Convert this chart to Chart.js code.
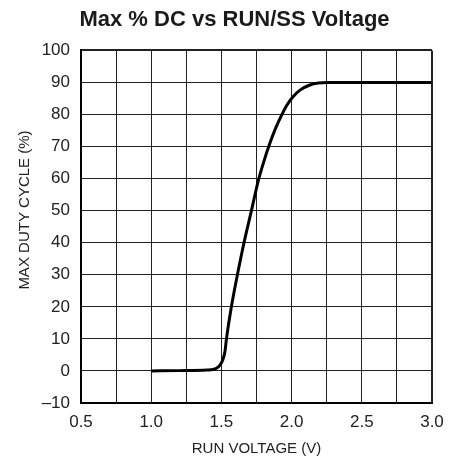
<!DOCTYPE html>
<html>
<head>
<meta charset="utf-8">
<script src="https://cdn.jsdelivr.net/npm/chart.js@4/dist/chart.umd.min.js"></script>
<style>
  html, body { margin: 0; padding: 0; background: #fff; }
  #wrap { width: 461px; height: 456px; }
</style>
</head>
<body>
<div id="wrap"><canvas id="dcChart" width="461" height="456"></canvas></div>
<script>
// values
const runVoltage = [1.0, 1.2, 1.4, 1.46, 1.49, 1.51, 1.525, 1.536, 1.571, 1.614, 1.661, 1.714, 1.762, 1.80, 1.84, 1.885, 1.929, 1.965, 2.007, 2.06, 2.13, 2.19, 2.25, 2.5, 3.0];
const maxDutyCycle = [0, 0.1, 0.3, 0.7, 1.8, 3.5, 6, 10, 20, 30, 40, 50, 59.2, 65, 70.4, 75.6, 79.8, 82.8, 85.4, 87.6, 89.2, 89.8, 90, 90, 90];

const xTicks = [0.5, 0.75, 1.0, 1.25, 1.5, 1.75, 2.0, 2.25, 2.5, 2.75, 3.0];
const xTickLabels = ['0.5', '', '1.0', '', '1.5', '', '2.0', '', '2.5', '', '3.0'];
const yTicks = [-10, 0, 10, 20, 30, 40, 50, 60, 70, 80, 90, 100];
const yTickLabels = ['\u201310', '0', '10', '20', '30', '40', '50', '60', '70', '80', '90', '100'];

const fam = '"Liberation Sans", Arial, sans-serif';

const points = runVoltage.map((v, i) => ({ x: v, y: maxDutyCycle[i] }));

// outer frame lines a little heavier than the inner grid
const edgeWidth = (c) => (c.index === 0 || c.index === c.scale.ticks.length - 1) ? 2 : 1;

new Chart(document.getElementById('dcChart').getContext('2d'), {
    type: 'line',
    data: {
        datasets: [{
            data: points,
            borderColor: '#000',
            borderWidth: 3,
            pointRadius: 0,
            fill: false,
            cubicInterpolationMode: 'monotone'
        }]
    },
    options: {
        responsive: false,
        animation: false,
        layout: { padding: { left: 8, right: 0, top: 0, bottom: 0 } },
        plugins: {
            legend: { display: false },
            tooltip: { enabled: false },
            title: {
                display: true,
                text: 'Max % DC vs RUN/SS Voltage',
                color: '#1a1a1a',
                font: { family: fam, size: 22, weight: 'bold' },
                padding: { top: 7, bottom: 17 }
            }
        },
        scales: {
            x: {
                type: 'linear',
                min: 0.5,
                max: 3.0,
                afterBuildTicks: (s) => { s.ticks = xTicks.map(v => ({ value: v })); },
                afterFit: (s) => { s.height = 53; },
                grid: { color: '#222', lineWidth: edgeWidth, drawTicks: false },
                border: { color: '#000', width: 2 },
                ticks: {
                    color: '#222',
                    padding: 9,
                    maxRotation: 0,
                    autoSkip: false,
                    font: { family: fam, size: 17 },
                    callback: (v, i) => xTickLabels[i]
                },
                title: {
                    display: true,
                    text: 'RUN VOLTAGE (V)',
                    color: '#222',
                    font: { family: fam, size: 15 },
                    padding: { top: 0, bottom: -2 }
                }
            },
            y: {
                type: 'linear',
                min: -10,
                max: 100,
                afterBuildTicks: (s) => { s.ticks = yTicks.map(v => ({ value: v })); },
                afterFit: (s) => { s.width = 73; },
                grid: { color: '#222', lineWidth: edgeWidth, drawTicks: false },
                border: { color: '#000', width: 2 },
                ticks: {
                    color: '#222',
                    padding: 11,
                    autoSkip: false,
                    font: { family: fam, size: 17 },
                    callback: (v, i) => yTickLabels[i]
                },
                title: {
                    display: true,
                    text: '\u00a0\u00a0\u00a0\u00a0\u00a0\u00a0\u00a0\u00a0MAX DUTY CYCLE (%)',
                    color: '#222',
                    font: { family: fam, size: 15 },
                    padding: { top: 8, bottom: 0 }
                }
            },
            // empty strip on the right so the plot frame ends where the reference does
            yRight: {
                type: 'linear',
                position: 'right',
                display: true,
                grid: { display: false, drawTicks: false },
                border: { display: false },
                ticks: { display: false },
                afterFit: (s) => { s.width = 29; }
            }
        }
    }
});
</script>
</body>
</html>
